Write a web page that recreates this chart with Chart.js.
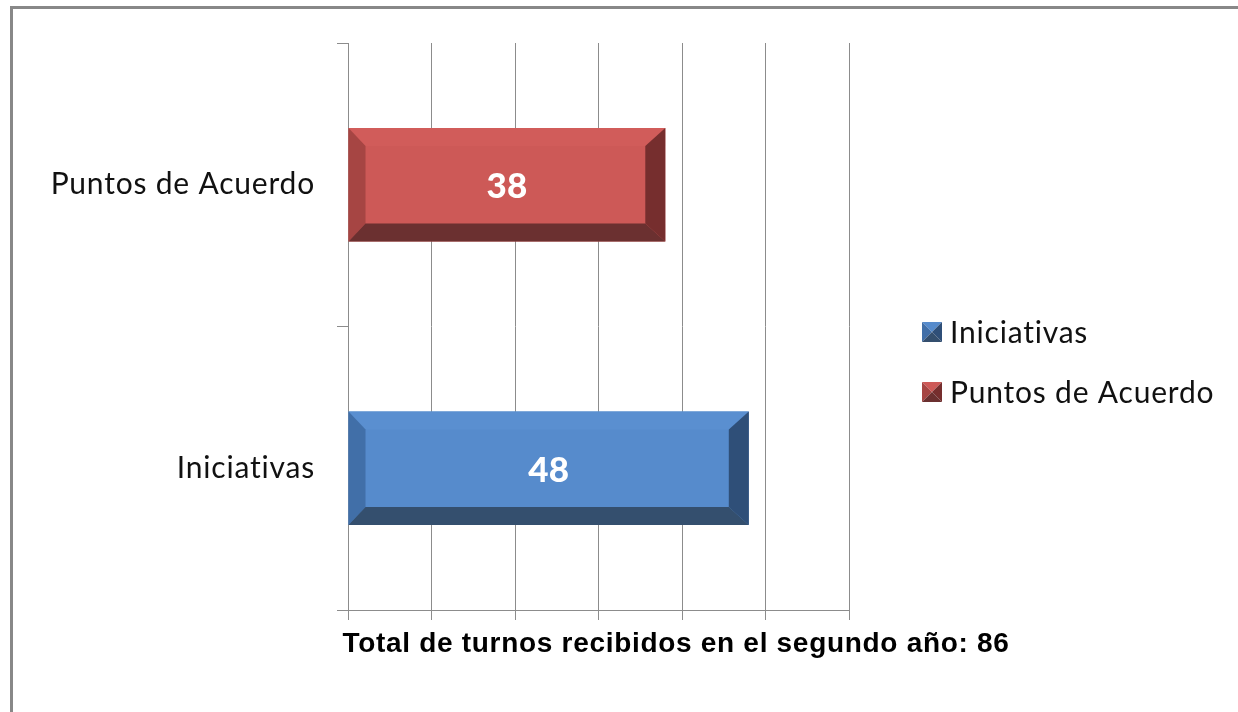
<!DOCTYPE html>
<html>
<head>
<meta charset="utf-8">
<script src="https://cdn.jsdelivr.net/npm/chart.js@4.4.1/dist/chart.umd.min.js"></script>
<style>
  html, body { margin: 0; padding: 0; background: #fff; overflow: hidden; width: 1238px; height: 712px; }
  #frame { position: absolute; left: 10px; top: 6px; width: 1400px; height: 900px; border: 3px solid #888; box-sizing: border-box; }
  #wrap { position: absolute; left: 0; top: 0; width: 1238px; height: 712px; }
</style>
</head>
<body>
<div id="frame"></div>
<div id="wrap"><canvas id="chart" width="1238" height="712"></canvas></div>
<script>
// data
const categories = ['Iniciativas', 'Puntos de Acuerdo'];
const values = [48, 38];
const axisMax = 60;
const axisStep = 10;
const chartTitle = 'Total de turnos recibidos en el segundo año: 86';

// bevel colours per bar: face, top, left, right, bottom
const shades = [
  { face: '#568bcc', top: '#5a8fd0', left: '#416fa8', right: '#2f4f78', bottom: '#344f6e' },
  { face: '#cd5957', top: '#d15c5a', left: '#a64543', right: '#762e2e', bottom: '#6b3030' },
];

const GRID = '#8c8c8c';
const LABEL_FONT = 'Lato, "Open Sans", sans-serif';
const LABEL_SPACING = '0.8px';

/**
 * Draws the bevel edges + value label on every bar, using the bar element geometry
 */
const bevelBars = {
  id: 'bevelBars',
  beforeDraw(chart) {
    // a bit of letter spacing for the axis labels (Calibri-like look)
    chart.ctx.letterSpacing = LABEL_SPACING;
  },
  afterDatasetsDraw(chart) {
    const { ctx } = chart;
    const meta = chart.getDatasetMeta(0);

    meta.data.forEach((bar, i) => {
      const { x, y, base, height } = bar.getProps(['x', 'y', 'base', 'height'], true);
      const x0 = Math.min(base, x);
      const x1 = Math.max(base, x);
      const t = y - height / 2;
      const b = y + height / 2;
      const L = 17, T = 18, R = 20, B = 18;
      const c = shades[i];

      const poly = (pts, col) => {
        ctx.beginPath();
        ctx.moveTo(pts[0][0], pts[0][1]);
        pts.slice(1).forEach(p => ctx.lineTo(p[0], p[1]));
        ctx.closePath();
        ctx.fillStyle = col;
        ctx.fill();
      };

      ctx.save();
      poly([[x0, t], [x1, t], [x1 - R, t + T], [x0 + L, t + T]], c.top);
      poly([[x0, t], [x0 + L, t + T], [x0 + L, b - B], [x0, b]], c.left);
      poly([[x1, t], [x1, b], [x1 - R, b - B], [x1 - R, t + T]], c.right);
      poly([[x0, b], [x0 + L, b - B], [x1 - R, b - B], [x1, b]], c.bottom);

      ctx.letterSpacing = '0px';
      ctx.fillStyle = '#fff';
      ctx.font = `900 35px ${LABEL_FONT}`;
      ctx.textAlign = 'center';
      ctx.textBaseline = 'middle';
      ctx.fillText(String(values[i]), (x0 + x1) / 2, y + 2);
      ctx.restore();
    });
  },
};

/**
 * Legend on the right and the caption under the axis
 */
const sideLegend = {
  id: 'sideLegend',
  afterDraw(chart) {
    const { ctx } = chart;
    ctx.save();

    categories.forEach((name, i) => {
      const cy = 332 + i * 60;
      const s = 20, bx = 922, by = cy - s / 2;
      const mx = bx + s / 2, my = by + s / 2;
      const c = shades[i];

      // little pyramid marker
      const tri = (p1, p2, col) => {
        ctx.beginPath();
        ctx.moveTo(p1[0], p1[1]); ctx.lineTo(p2[0], p2[1]); ctx.lineTo(mx, my);
        ctx.closePath();
        ctx.fillStyle = col;
        ctx.fill();
      };
      tri([bx, by], [bx + s, by], c.face);
      tri([bx, by], [bx, by + s], c.left);
      tri([bx + s, by], [bx + s, by + s], c.right);
      tri([bx, by + s], [bx + s, by + s], c.bottom);

      ctx.letterSpacing = LABEL_SPACING;
      ctx.fillStyle = '#111';
      ctx.font = `30px ${LABEL_FONT}`;
      ctx.textAlign = 'left';
      ctx.textBaseline = 'middle';
      ctx.fillText(name, 950, cy + 1);
    });

    ctx.letterSpacing = '0.7px';
    ctx.fillStyle = '#000';
    ctx.font = 'bold 28px "Liberation Sans", Arial, sans-serif';
    ctx.textAlign = 'center';
    ctx.textBaseline = 'alphabetic';
    ctx.fillText(chartTitle, 676, 652);
    ctx.restore();
    ctx.letterSpacing = '0px';
  },
};

const ctx = document.getElementById('chart').getContext('2d');

window.BarRef = new Chart(ctx, {
  type: 'bar',
  data: {
    labels: categories,
    datasets: [
      {
        label: 'Turnos',
        data: values,
        backgroundColor: shades.map(s => s.face),
        borderWidth: 0,
        barPercentage: 0.8,
        categoryPercentage: 0.5,
      },
    ],
  },
  options: {
    indexAxis: 'y',
    responsive: false,
    animation: false,
    layout: {
      padding: { top: 43, right: 389, bottom: 92, left: 0 },
    },
    plugins: {
      legend: { display: false },
      tooltip: { enabled: false },
    },
    scales: {
      x: {
        min: 0,
        max: axisMax,
        ticks: { stepSize: axisStep, display: false },
        grid: { color: GRID, lineWidth: 1, tickLength: 10, drawTicks: true },
        border: { color: GRID, width: 1 },
      },
      y: {
        reverse: true,
        afterFit(scale) {
          scale.width = 348;
        },
        ticks: {
          color: '#111',
          padding: 22,
          font: { family: LABEL_FONT, size: 30 },
        },
        grid: { drawOnChartArea: false, drawTicks: true, tickLength: 11, color: GRID, offset: true },
        border: { color: GRID, width: 1 },
      },
    },
  },
  plugins: [bevelBars, sideLegend],
});
</script>
</body>
</html>
